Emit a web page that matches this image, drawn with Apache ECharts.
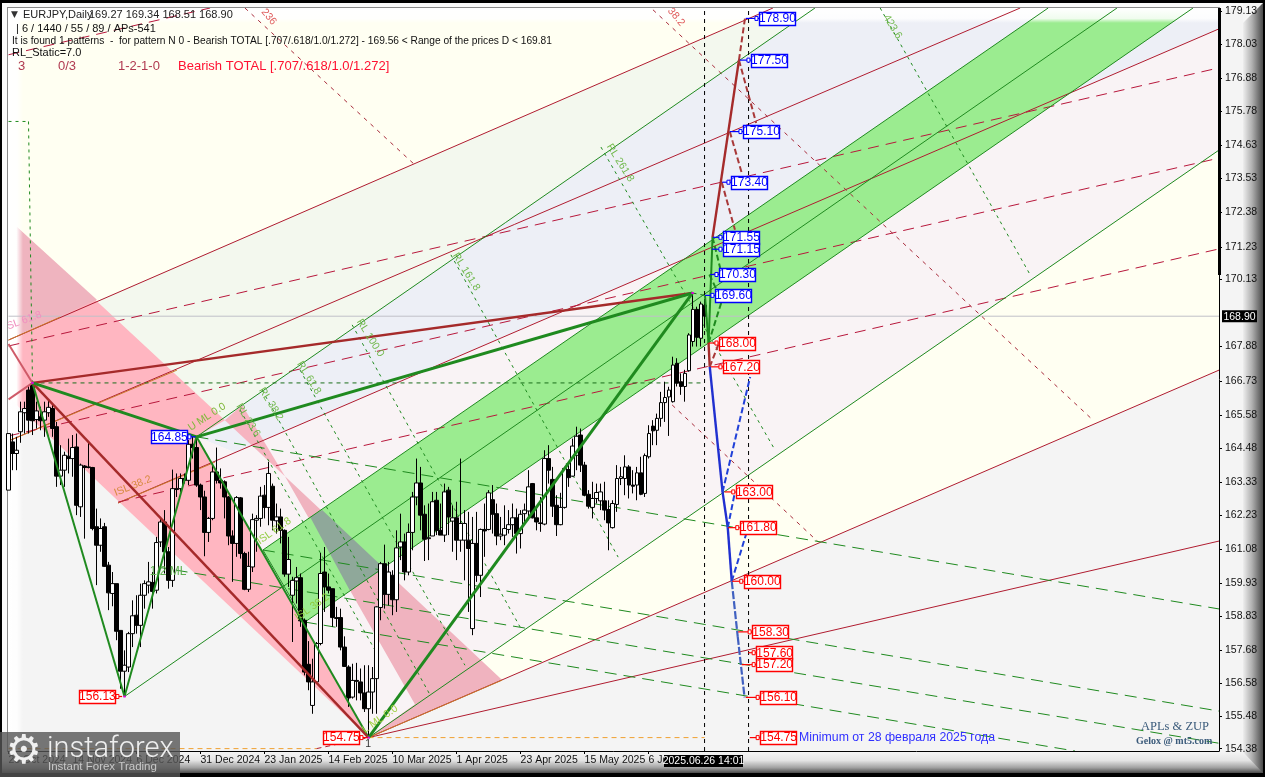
<!DOCTYPE html>
<html><head><meta charset="utf-8">
<style>html,body{margin:0;padding:0;background:#000;overflow:hidden}#c{width:1265px;height:777px}</style>
<script src="https://cdn.jsdelivr.net/npm/echarts@6/dist/echarts.min.js"></script>
</head><body><div id="c"></div>
<script>
const priceTicks=[179.13,178.03,176.88,175.78,174.63,173.53,172.38,171.23,170.13,167.88,166.73,165.58,164.48,163.33,162.23,161.08,159.93,158.83,157.68,156.58,155.48,154.38];
const dateBars=[0,16,32,48,64,80,96,112,128,144,160];
const dateLabels=['23 Oct 2024','14 Nov 2024','6 Dec 2024','31 Dec 2024','23 Jan 2025','14 Feb 2025','10 Mar 2025','1 Apr 2025','23 Apr 2025','15 May 2025','6 Jun 2025'];
const opens=[163.06,164.68,164.29,165.02,165.66,166.42,166.64,165.43,165.52,165.41,
165.66,165.80,165.19,163.53,163.73,164.20,164.12,164.51,162.50,163.87,
163.82,163.82,161.83,161.21,161.83,160.54,159.59,159.92,158.35,156.98,
157.12,158.24,158.86,158.52,159.53,159.87,159.96,159.70,161.32,161.99,
160.99,160.03,163.08,163.11,163.45,163.39,164.60,164.49,163.23,162.83,
161.64,162.11,163.67,163.39,163.34,162.83,161.52,161.27,162.80,160.93,
159.73,160.48,162.05,162.11,162.89,162.48,163.19,162.03,162.16,161.71,
160.24,159.53,160.01,160.12,158.69,157.21,155.83,156.62,157.91,160.31,
159.81,159.75,158.75,158.78,157.79,157.12,156.11,156.67,156.62,156.25,
155.72,156.28,156.73,159.12,160.59,159.56,160.20,159.38,161.15,161.32,
160.31,161.64,162.83,163.30,162.25,161.43,161.52,162.72,161.71,161.55,
163.06,162.02,162.13,161.38,161.38,161.38,158.41,161.27,160.20,161.74,
161.74,162.74,162.27,161.52,161.55,161.74,161.90,162.13,161.60,162.27,
162.36,163.28,162.13,161.96,161.92,164.12,163.42,162.55,161.90,162.48,
163.75,163.53,164.23,164.91,163.90,162.92,162.48,162.78,162.70,162.70,
162.41,161.80,162.58,163.45,163.45,163.84,163.23,163.23,163.64,162.95,
164.18,165.21,165.07,165.47,166.00,166.19,166.03,167.32,166.70,166.54,
167.07,168.05,169.13,168.16,169.27];
const closes=[164.96,164.29,164.40,165.69,165.80,165.41,165.39,165.72,165.39,165.69,
165.84,165.13,163.53,163.73,164.23,164.12,164.49,162.55,163.90,163.82,
163.84,161.77,161.21,161.77,160.50,159.61,159.92,158.32,156.98,157.18,
158.24,158.84,158.52,159.53,159.92,159.98,159.66,161.30,161.99,160.99,
160.03,163.11,163.11,163.45,163.39,164.60,164.49,163.23,162.83,161.64,
162.11,163.67,163.39,163.30,162.83,161.52,161.27,162.81,160.93,159.73,
160.50,162.07,162.11,162.86,162.48,163.62,162.05,162.16,161.71,160.24,
160.73,160.03,160.12,158.67,156.95,156.62,156.62,157.91,160.26,159.81,
159.70,158.78,158.78,157.79,157.14,156.08,156.67,156.64,156.25,155.72,
156.28,156.73,159.14,160.59,159.56,160.31,159.38,161.12,161.32,160.31,
161.64,162.83,163.30,162.22,161.41,161.46,162.67,161.71,161.55,163.00,
162.16,162.13,161.38,161.94,161.94,161.10,161.27,160.20,161.74,161.69,
162.97,162.25,161.52,161.58,161.77,161.90,162.13,161.60,162.25,162.39,
163.17,162.13,161.99,161.94,164.12,163.73,162.52,161.90,162.48,163.79,
163.48,164.54,164.87,163.90,162.89,162.52,162.78,162.98,163.00,162.39,
161.96,162.61,163.45,163.51,163.84,163.23,163.19,163.64,162.92,164.22,
164.96,165.05,165.47,166.00,166.17,166.42,167.26,166.65,166.54,166.98,
168.27,169.13,168.19,169.31,168.90];
const lows=[163.06,163.73,163.73,164.65,164.96,164.96,164.91,165.13,165.07,164.85,
165.52,164.85,163.17,163.23,163.17,163.62,163.51,162.22,162.16,161.43,
163.79,161.71,159.87,160.99,160.48,159.03,159.16,158.02,156.39,156.13,
156.95,157.79,158.24,157.79,159.08,159.59,159.08,159.59,161.15,160.26,
159.75,159.81,162.83,163.00,163.28,163.23,164.12,163.17,162.39,160.84,
161.32,162.05,163.28,163.11,162.11,161.21,159.98,160.82,160.76,159.70,
159.64,160.31,160.99,161.83,162.11,161.88,161.71,161.60,161.27,160.15,
159.81,157.96,159.25,158.47,156.84,156.34,155.55,156.56,157.85,158.97,
159.59,158.47,158.47,157.68,157.12,155.78,156.06,156.00,156.00,155.61,
154.75,155.55,155.55,158.69,159.08,159.19,158.86,158.97,160.71,160.03,
160.20,161.04,162.55,161.71,160.68,160.71,161.52,161.55,161.55,161.32,
161.55,160.99,160.71,160.99,160.03,158.97,158.19,159.98,159.47,160.82,
161.71,161.60,161.21,161.38,161.21,161.60,161.49,160.93,161.10,161.94,
162.05,162.11,161.71,161.66,161.88,163.28,162.16,161.52,161.88,162.44,
163.17,163.51,163.73,163.67,162.86,162.44,162.11,162.61,162.39,162.05,
161.04,161.77,162.33,163.23,162.89,162.78,162.95,162.72,162.89,162.83,
164.12,164.57,164.57,165.19,165.35,164.88,166.00,166.54,166.26,166.03,
167.04,167.88,167.88,167.88,168.51];
const highs=[164.96,164.96,164.85,166.03,166.03,166.59,166.66,166.03,165.86,166.03,
166.08,165.97,165.35,164.57,164.35,164.79,164.91,164.96,163.95,163.90,
164.68,163.84,162.44,162.11,161.96,160.65,160.31,159.92,158.35,157.68,
158.30,159.36,159.53,159.92,160.03,160.65,160.31,161.49,162.16,162.39,
161.15,163.75,163.62,163.62,163.62,164.74,164.85,164.85,163.28,163.04,
162.16,163.95,164.49,163.79,163.39,162.86,161.71,162.86,162.83,160.99,
160.99,162.27,162.22,163.17,163.23,164.01,163.28,162.61,162.44,161.74,
161.49,160.15,160.48,160.26,158.75,157.99,157.40,157.96,160.95,161.15,
160.26,159.75,159.14,159.08,158.15,157.18,157.23,157.26,157.07,157.18,
157.18,157.12,159.16,160.65,161.23,160.65,160.37,161.71,162.27,161.60,
161.94,163.00,164.12,163.84,162.55,162.61,163.00,163.00,162.61,163.28,
163.17,162.55,162.67,164.12,162.39,162.33,162.16,162.33,161.77,162.61,
163.06,163.23,162.61,162.16,162.55,162.39,162.61,162.44,162.39,162.61,
163.73,163.30,162.44,162.83,164.40,164.57,163.84,162.89,162.97,163.84,
163.90,164.79,165.19,165.13,164.01,163.06,163.34,163.28,163.28,163.34,
162.72,162.72,163.90,163.84,164.23,163.90,163.73,163.84,164.18,164.29,
165.24,165.41,165.63,166.36,166.70,166.53,167.54,167.49,166.98,167.10,
168.33,169.68,169.22,169.39,169.34];

// Zones, as [bar, price] vertices
const zoneGray=[[0,166.19],[90,154.75],[302.6,167.09],[302.6,154.3],[0,154.3]];
const zonePaleGreen=[[12.9,168.87],[191.1,179.25],[201.6,179.25],[47,164.85]];
const zoneLavender=[[47,164.85],[201.6,179.25],[302.6,179.25],[302.6,178.55],[56.6,164.32]];
const zonePalePink=[[47,164.85],[56.6,164.32],[302.6,178.55],[302.6,174.48],[90,154.75]];
const pinkTop=[[2.1,171.90],[22.1,169.45],[2.1,168.24]];
const pinkMain=[[2.1,171.90],[54.1,165.41],[47,164.85],[90,154.75],[2.1,165.91]];
const pinkSliver=[[54.1,165.41],[58.4,165.92],[69.1,163.53]];
const pinkWedge=[[69.1,163.53],[123.4,156.68],[90,154.75],[101.6,155.87]];
const greenBand=[[63.6,161.05],[259.9,179.25],[296.1,179.25],[74.1,158.63]];
const grayOverlap=[[75.4,162.16],[78.4,162.39],[93.9,160.44],[85.4,159.67]];

// Segments, as [bar1, price1, bar2, price2]
const redSolid=[[0,168.10,191.1,179.25],[0,164.71,252.9,179.25],[27.4,162.63,302.6,178.55],[90,154.75,302.6,167.09],[90,154.75,302.6,161.35]];
const orangeSolid=[[90,154.75,123.4,156.68],[0,164.71,42.1,167.09],[27.4,162.63,51.6,164.0],[0,168.10,12.9,168.87]];
const redDashed=[[0,177.68,50.4,179.25],[0,167.90,302.6,177.24],[0,164.88,302.6,174.21],[27.4,162.66,302.6,171.16]];
const redFine=[[59.1,179.25,101.6,173.98],[161.1,179.19,271.1,165.41],[165.9,165.92,202.4,161.32]];
const greenSolid=[[47,164.85,201.6,179.25],[29,156.13,277.1,179.25],[90,154.75,302.6,174.48],[63.6,161.05,259.9,179.25],[74.1,158.63,296.1,179.25],[63.6,161.05,74.1,158.63]];
const greenFine=[[57.9,165.75,91.6,157.69],[63.4,166.42,105.4,156.18],[72.9,167.09,114.1,157.18],[85.9,168.61,127.9,158.46],[110.6,170.96,152.4,160.81],[148.1,174.58,191.6,164.41],[217.9,179.25,255.4,170.29],[0,175.44,5,175.44],[5,175.44,6,166.66]];
const greenDashed=[[47,164.85,302.6,159.07],[63.6,161.05,302.6,155.64],[37.1,160.48,302.6,154.56],[74.1,158.63,266.6,154.30]];
const pivotLevel=[[6,166.66,174,166.66],[171,169.68,174,169.60]];
const zigMedium=[[6,166.66,29,156.13],[29,156.13,47,164.85],[47,164.85,90,154.75],[174.1,169.60,175,168.00],[175,168.00,176,171.55]];
const zigThick=[[6,166.66,47,164.85],[47,164.85,171,169.68],[90,154.75,171,169.68]];
const brownThick=[[6,166.66,90,154.75],[6,166.66,171,169.68],[175,168.00,175.3,167.20],[176,171.55,182.6,177.50]];
const pinkShort=[[0,167.97,6,166.66],[0,166.11,6,166.66]];
const brownDashed=[[182.6,177.50,184.1,178.90],[182.6,177.50,186.9,175.39],[180.3,175.10,183.3,173.71],[178.3,173.40,181.6,171.80],[175.3,167.20,177.6,168.00]];
const zigDashed=[[175,168.00,178.4,169.45],[176,171.55,177.9,170.52],[175.2,170.30,178.4,169.40]];
const blueSolid=[[175.3,167.20,178.5,163.00],[178.5,163.00,179.8,161.80],[179.8,161.80,180.8,160.00]];
const blueTail=[[180.8,160.00,182.3,158.13],[182.3,158.13,184,156.10]];
const blueDashed=[[178.5,163.00,185.4,166.86],[179.8,161.80,181.6,163.00],[180.8,160.00,184.7,161.72]];
const timeMarks=[[174,154.3,174,179.25],[185,154.3,185,179.25]];
const minLevels=[[90,154.75,174,154.75],[0,154.38,77,154.38]];
const minLink=[[77,154.38,90,154.75]];
const pivotDots=[[5.7,166.66,6.3,166.66],[28.7,156.13,29.3,156.13],[89.7,154.75,90.3,154.75],[170.7,169.68,171.3,169.68]];
const lastPrice=168.90;
const lastLine=[[0,lastPrice,302.6,lastPrice]];

// Price tags
const tagPrices=[178.90,177.50,175.10,173.40,171.55,171.15,170.30,169.60,168.00,167.20,163.00,161.80,160.00,158.30,157.60,157.20,156.10,154.75,164.85,156.13,154.75];
const tagBars=[187.6,185.6,183.6,180.6,178.6,178.6,177.6,176.6,177.6,178.6,181.8,182.8,183.8,185.9,186.9,186.9,187.9,187.9,35.6,17.6,78.6];
const tagFrom=[184.3,182.8,180.3,178.4,176.1,175.8,175.4,174.1,175,175.6,179,179.9,180.9,182.4,184.9,183.3,184.3,185.3,46.8,28.4,89.8];
const tagBlue=[1,1,1,1,1,1,1,1,0,0,0,0,0,0,0,0,0,0,1,0,0];

// Small chart annotations: text, bar, price, angle in degrees
const noteTexts=['U ML 0.0','RL 23.6','RL 38.2','RL 61.8','RL 100.0','RL 161.8','RL 261.8','423.6','ISL 38.2','ISL 61.8','ISL 38.2','ISL 61.8','1/2 ML','L ML 0.0','236','38.2','1'];
const noteBars=[49.6,59.9,65.6,75.1,90.4,114.4,152.9,221,31.1,66.4,75.9,3.6,39.9,92.9,65.1,166.9,89.9];
const notePrices=[165.52,165.41,165.95,166.83,168.17,170.39,174.05,178.62,163.20,161.69,159.13,168.74,160.31,155.37,178.95,178.95,154.53];
const noteAngles=[33,-58,-58,-58,-58,-58,-58,-58,22,35,35,20,0,35,-50,-50,0];
const noteColors=['#7fb83a','#6fb84a','#6fb84a','#6fb84a','#6fb84a','#6fb84a','#6fb84a','#6fb84a','#d88a40','#90cc40','#90cc40','#f090c0','#60b050','#a0d040','#e06060','#e06060','#333333'];

const xMin=0,xMax=302.6,yMin=154.3,yMax=179.25;
const base={animation:false,silent:true,tooltip:{show:false}};

function zone(points,color,z){
  return Object.assign({},base,{type:'custom',z:z,clip:true,data:[[points[0][0],points[0][1]]],
    renderItem:(p,api)=>({type:'polygon',shape:{points:points.map(q=>api.coord(q))},style:{fill:color}})});
}
function seg(rows,color,width,dash,z){
  return Object.assign({},base,{type:'custom',z:z||3,clip:true,data:rows,encode:{x:[0,2],y:[1,3]},
    renderItem:(p,api)=>{
      const a=api.coord([api.value(0),api.value(1)]),b=api.coord([api.value(2),api.value(3)]);
      return {type:'line',shape:{x1:a[0],y1:a[1],x2:b[0],y2:b[1]},style:{stroke:color,lineWidth:width,lineDash:dash||null,fill:null}};
    }});
}

const tagRows=tagPrices.map((v,i)=>[tagBars[i],v,tagFrom[i],tagBlue[i]]);
const tags=Object.assign({},base,{type:'custom',z:8,clip:false,data:tagRows,encode:{x:0,y:1},
  renderItem:(p,api)=>{
    const v=api.value(1),a=api.coord([api.value(0),v]),f=api.coord([api.value(2),v]);
    const col=api.value(3)?'#0000ff':'#ff0000',W=36,H=13;
    const right=f[0]>a[0];
    const edge=right?a[0]+W:a[0];
    const x=Math.round(a[0])+.5,y=Math.round(a[1]-H/2)+.5;
    return {type:'group',children:[
      {type:'line',shape:{x1:f[0],y1:a[1],x2:edge,y2:a[1]},style:{stroke:col,lineWidth:1.2}},
      {type:'rect',shape:{x:edge-(right?-1:4),y:a[1]-2,width:3,height:4},style:{fill:'#fff',stroke:col,lineWidth:1}},
      {type:'rect',shape:{x:x,y:y,width:W,height:H},style:{fill:'#fff',stroke:col,lineWidth:1.4}},
      {type:'text',x:a[0]+W/2+.5,y:a[1]+.5,style:{text:v.toFixed(2),fill:col,font:'12px "Liberation Sans"',align:'center',verticalAlign:'middle'}}
    ]};
  }});
const notes=Object.assign({},base,{type:'custom',z:7,clip:true,data:noteBars.map((b,i)=>[b,notePrices[i]]),encode:{x:0,y:1},
  renderItem:(p,api)=>{
    const a=api.coord([api.value(0),api.value(1)]),i=p.dataIndex;
    return {type:'text',x:a[0],y:a[1],rotation:noteAngles[i]*Math.PI/180,
      style:{text:noteTexts[i],fill:noteColors[i],font:(noteTexts[i]==='1/2 ML'?'12px':'10.5px')+' "Liberation Sans"',align:'center',verticalAlign:'middle'}};
  }});
const lastTag=Object.assign({},base,{type:'custom',z:9,clip:false,data:[[xMax,lastPrice]],encode:{x:0,y:1},
  renderItem:(p,api)=>{
    const a=api.coord([api.value(0),api.value(1)]);
    return {type:'group',children:[
      {type:'rect',shape:{x:a[0]+3,y:a[1]-6,width:35,height:12},style:{fill:'#000'}},
      {type:'text',x:a[0]+20.5,y:a[1]+.5,style:{text:lastPrice.toFixed(2),fill:'#fff',font:'10.5px "Liberation Sans"',align:'center',verticalAlign:'middle'}}
    ]};
  }});

const G=(x0,y0,x1,y1,stops)=>({type:'linear',x:x0,y:y0,x2:x1,y2:y1,colorStops:stops.map(s=>({offset:s[0],color:s[1]}))});
const rect=(x,y,w,h,fill,z)=>({type:'rect',z:z,silent:true,shape:{x,y,width:w,height:h},style:{fill}});
const txt=(x,y,t,fill,font,extra)=>({type:'text',z:12,silent:true,x,y,style:Object.assign({text:t,fill,font,verticalAlign:'middle'},extra||{})});
const hdr='10.2px "Liberation Sans"';
const graphic=[
  rect(0,0,1265,777,'#000',-5),
  rect(2,3,1242,770,'#fafafa',-4),
  rect(7,7,1212,1,'#8a8a8a',-3),
  rect(7,7,1,745,'#8a8a8a',-3),
  rect(1220,8,23,744,'#f4f4f4',-3),
  rect(1243,3,20,770,G(0,0,1,0,[[0,'#eeeeee'],[.45,'#b0b0b0'],[1,'#4a4a4a']]),-3),
  {type:'polygon',z:-2,silent:true,shape:{points:[[1243,3],[1263,3],[1243,23]]},style:{fill:'#f6f6f6'}},
  rect(2,752,1241,21,G(0,0,0,1,[[0,'#f4f4f4'],[.4,'#e4e4e4'],[.75,'#a0a0a0'],[1,'#4a4a4a']]),-3),
  {type:'polygon',z:-2,silent:true,shape:{points:[[1243,752],[1263,773],[1243,773]]},style:{fill:G(0,0,0,1,[[0,'#f4f4f4'],[.4,'#e4e4e4'],[.75,'#a0a0a0'],[1,'#4a4a4a']])}},
  // plot-edge fades
  rect(8,8,15,743,G(0,0,1,0,[[0,'rgba(255,255,255,1)'],[.6,'rgba(255,255,255,.9)'],[1,'rgba(255,255,255,0)']]),1.5),
  rect(8,8,1211,15,G(0,0,0,1,[[0,'rgba(255,255,255,1)'],[.7,'rgba(255,255,255,.85)'],[1,'rgba(255,255,255,0)']]),1.5),
  rect(1218,8,3,267,'#000',6),
  // header
  txt(11,15,'▼','#333','9px "DejaVu Sans"'),
  txt(23,15,'EURJPY,Daily','#222','11px "Liberation Sans"'),
  txt(89,15,'169.27 169.34 168.51 168.90','#222','11px "Liberation Sans"'),
  txt(16,29,'| 6 / 1440 / 55 / 89 / APs-541','#111','11px "Liberation Sans"'),
  txt(12,41,'It is found 1 patterns  -  for pattern N 0 - Bearish TOTAL [.707/.618/1.0/1.272] - 169.56 < Range of the prices D < 169.81','#111',hdr),
  txt(12,53,'RL_Static=7.0','#111','11px "Liberation Sans"'),
  txt(18,66,'3','#b03a50','13px "Liberation Sans"'),
  txt(58,66,'0/3','#b03a50','13px "Liberation Sans"'),
  txt(118,66,'1-2-1-0','#b03a50','13px "Liberation Sans"'),
  txt(178,66,'Bearish TOTAL [.707/.618/1.0/1.272]','#ff1030','13px "Liberation Sans"'),
  txt(799,738,'Minimum от 28 февраля 2025 года','#3030ff','12.3px "Liberation Sans"'),
  txt(1141,727,'APLs & ZUP','#3b5b7b','12.5px "Liberation Serif"'),
  txt(1136,741,'Gelox @ mt5.com','#3b5b7b','bold 10px "Liberation Serif"'),
  // time tag
  rect(664,755,79,12,'#000',13),
  {type:'text',z:14,silent:true,x:703.5,y:761.5,style:{text:'2025.06.26 14:01',fill:'#fff',font:'10.5px "Liberation Sans"',align:'center',verticalAlign:'middle'}},
  // logo
  rect(0,732,180,45,'rgba(85,85,85,.8)',15),
  {type:'text',z:16,silent:true,x:24,y:753,style:{text:'⚙',fill:'#f0f0f0',font:'40px "DejaVu Sans"',align:'center',verticalAlign:'middle'}},
  {type:'text',z:16,silent:true,x:47,y:750,style:{text:'instaforex',fill:'#eeeeee',font:'300 29px Roboto',verticalAlign:'middle'}},
  {type:'text',z:16,silent:true,x:48,y:767,style:{text:'Instant Forex Trading',fill:'#c8c8c8',font:'11.5px "Liberation Sans"',verticalAlign:'middle'}}
];

const chart=echarts.init(document.getElementById('c'),null,{renderer:'canvas',width:1265,height:777});
chart.setOption({
  animation:false,
  backgroundColor:'#000',
  graphic:graphic,
  grid:{left:8.5,right:46,top:8,bottom:26,show:true,backgroundColor:'#fffff2',borderWidth:0},
  xAxis:{type:'value',min:xMin,max:xMax,splitLine:{show:false},
    axisLine:{show:true,onZero:false,lineStyle:{color:'#000',width:1}},
    axisTick:{show:true,length:3,lineStyle:{color:'#000'},customValues:dateBars},
    axisLabel:{show:true,align:'left',margin:4,color:'#111',fontSize:10.5,fontFamily:'"Liberation Sans"',
      customValues:dateBars,formatter:v=>dateLabels[dateBars.indexOf(v)]||''}},
  yAxis:{type:'value',position:'right',min:yMin,max:yMax,scale:true,splitLine:{show:false},
    axisLine:{show:true,onZero:false,lineStyle:{color:'#000',width:1}},
    axisTick:{show:true,length:3,lineStyle:{color:'#000'},customValues:priceTicks},
    axisLabel:{show:true,margin:6,color:'#111',fontSize:10.5,fontFamily:'"Liberation Sans"',
      customValues:priceTicks,formatter:v=>v.toFixed(2)}},
  series:[
    zone(zoneGray,'#f4f4f4',1),
    zone(zonePaleGreen,'#f3f8ee',1),
    zone(zoneLavender,'#edeff6',1),
    zone(zonePalePink,'#f9f3f5',1),
    zone(pinkMain,'#ffb6c1',1),
    zone(pinkTop,'#efb4bf',1),
    zone(pinkSliver,'#f6b4c0',1),
    zone(pinkWedge,'#f0b3bf',1),
    zone(greenBand,'#9bec90',1),
    zone(grayOverlap,'#8fa89a',1),
    seg(lastLine,'#c0c0c8',1),
    seg(redSolid,'#b01c30',1),
    seg(orangeSolid,'#c87a2a',1),
    seg(redDashed,'#b8183c',1,[11,7]),
    seg(redFine,'#a82a3a',1,[4,5]),
    seg(greenSolid,'#1f8a1f',1),
    seg(greenFine,'#1f8a1f',1,[3,4]),
    seg(greenDashed,'#1f8a1f',1,[12,7]),
    seg(pivotLevel,'#1a6e1a',1,[4,4]),
    seg(minLevels,'#f0a030',1,[5,4]),
    seg(minLink,'#b01c30',1,[5,4]),
    {...base,type:'candlestick',z:4,barWidth:3.6,clip:true,
      encode:{x:0,y:[1,2,3,4]},
      data:opens.map((o,i)=>[i,o,closes[i],lows[i],highs[i]]),
      itemStyle:{color:'#fff',color0:'#000',borderColor:'#000',borderColor0:'#000',borderWidth:1}},
    seg(timeMarks,'#000',1,[4,4],5),
    seg(pinkShort,'#cf5a68',2,null,5),
    seg(zigMedium,'#1f8a1f',2,null,5),
    seg(brownThick,'#a52a2a',2.4,null,6),
    seg(zigThick,'#1f8a1f',3,null,6),
    seg(brownDashed,'#a83838',2,[6,3],6),
    seg(zigDashed,'#1f8a1f',2,[6,3],6),
    seg(blueSolid,'#2030d0',2.4,null,6),
    seg(blueTail,'#4060c0',2.2,[8,2],6),
    seg(blueDashed,'#2040d8',2,[6,3],6),
    seg(pivotDots,'#e000e0',2,null,7),
    notes,tags,lastTag
  ]
});
</script></body></html>
